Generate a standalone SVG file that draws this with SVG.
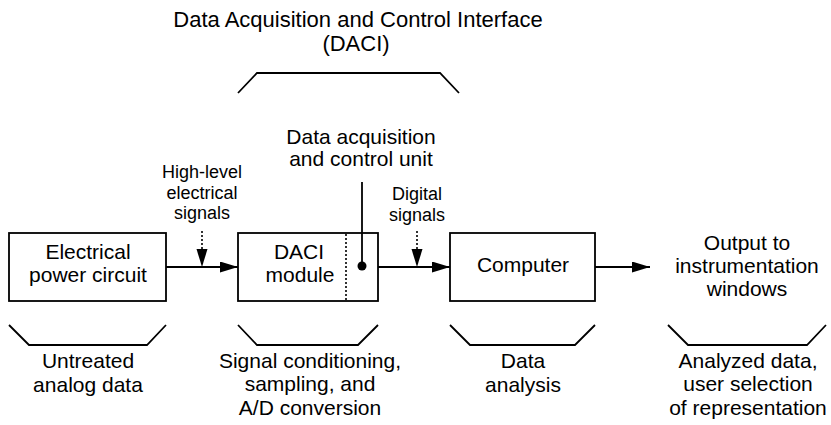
<svg xmlns="http://www.w3.org/2000/svg" width="831" height="425" viewBox="0 0 831 425">
<style>
text{font-family:"Liberation Sans",Arial,sans-serif;fill:#000;text-anchor:middle}
.t{font-size:21px}
.s{font-size:18px}
.h{font-size:22px}
.box{fill:#fff;stroke:#000;stroke-width:1.8}
.ln{fill:none;stroke:#000;stroke-width:1.8}
.dash{fill:none;stroke:#000;stroke-width:1.6;stroke-dasharray:2,2}
</style>
<defs>
<marker id="ah" markerWidth="18" markerHeight="11" refX="18" refY="5.5" orient="auto" markerUnits="userSpaceOnUse">
<path d="M0,0 L18,5.5 L0,11 Z" fill="#000"/>
</marker>
</defs>
<rect width="831" height="425" fill="#fff"/>
<g id="title">
<text class="h" x="358" y="27">Data Acquisition and Control Interface</text>
<text class="h" x="356" y="51">(DACI)</text>
<path class="ln" d="M238,93 L257,73 L440,73 L459,93"/>
</g>
<g id="unit-label">
<text class="t" x="361" y="144">Data acquisition</text>
<text class="t" x="361" y="166">and control unit</text>
</g>
<g id="hl-label">
<text class="s" x="202" y="178">High-level</text>
<text class="s" x="202" y="199">electrical</text>
<text class="s" x="202" y="219">signals</text>
</g>
<g id="dig-label">
<text class="s" x="417" y="200">Digital</text>
<text class="s" x="417" y="221">signals</text>
</g>
<g id="power">
<rect class="box" x="9" y="233" width="157" height="68"/>
<text class="t" x="88" y="259">Electrical</text>
<text class="t" x="88" y="282">power circuit</text>
</g>
<g id="daci">
<rect class="box" x="238" y="233" width="140" height="68"/>
<line class="dash" x1="346" y1="234" x2="346" y2="300"/>
<text class="t" x="299" y="259">DACI</text>
<text class="t" x="300" y="282">module</text>
</g>
<g id="computer">
<rect class="box" x="450" y="233" width="145" height="68"/>
<text class="t" x="523" y="272">Computer</text>
</g>
<g id="output">
<text class="t" x="747" y="250">Output to</text>
<text class="t" x="747" y="273">instrumentation</text>
<text class="t" x="747" y="296">windows</text>
</g>
<g id="connectors">
<line class="ln" x1="166" y1="267" x2="238" y2="267" marker-end="url(#ah)"/>
<line class="ln" x1="378" y1="267" x2="450" y2="267" marker-end="url(#ah)"/>
<line class="ln" x1="595" y1="267" x2="650" y2="267" marker-end="url(#ah)"/>
<line class="dash" x1="202" y1="231" x2="202" y2="250"/>
<path d="M196.5,249 L207.5,249 L202,267 Z" fill="#000"/>
<line class="dash" x1="417" y1="231" x2="417" y2="250"/>
<path d="M411.5,249 L422.5,249 L417,267 Z" fill="#000"/>
<line class="ln" x1="362" y1="182" x2="362" y2="266"/>
<circle cx="362" cy="266" r="4.5" fill="#000"/>
</g>
<g id="brackets">
<path class="ln" d="M9,325 L29,345 L147,345 L166,325"/>
<path class="ln" d="M238,325 L257,345 L358,345 L378,325"/>
<path class="ln" d="M450,325 L470,345 L575,345 L595,325"/>
<path class="ln" d="M668,325 L688,345 L807,345 L826,325"/>
</g>
<g id="bottom-labels">
<text class="t" x="88" y="368">Untreated</text>
<text class="t" x="88" y="392">analog data</text>
<text class="t" x="310" y="368">Signal conditioning,</text>
<text class="t" x="310" y="391">sampling, and</text>
<text class="t" x="310" y="415">A/D conversion</text>
<text class="t" x="523" y="368">Data</text>
<text class="t" x="523" y="392">analysis</text>
<text class="t" x="748" y="368">Analyzed data,</text>
<text class="t" x="748" y="391">user selection</text>
<text class="t" x="748" y="415">of representation</text>
</g>
</svg>
